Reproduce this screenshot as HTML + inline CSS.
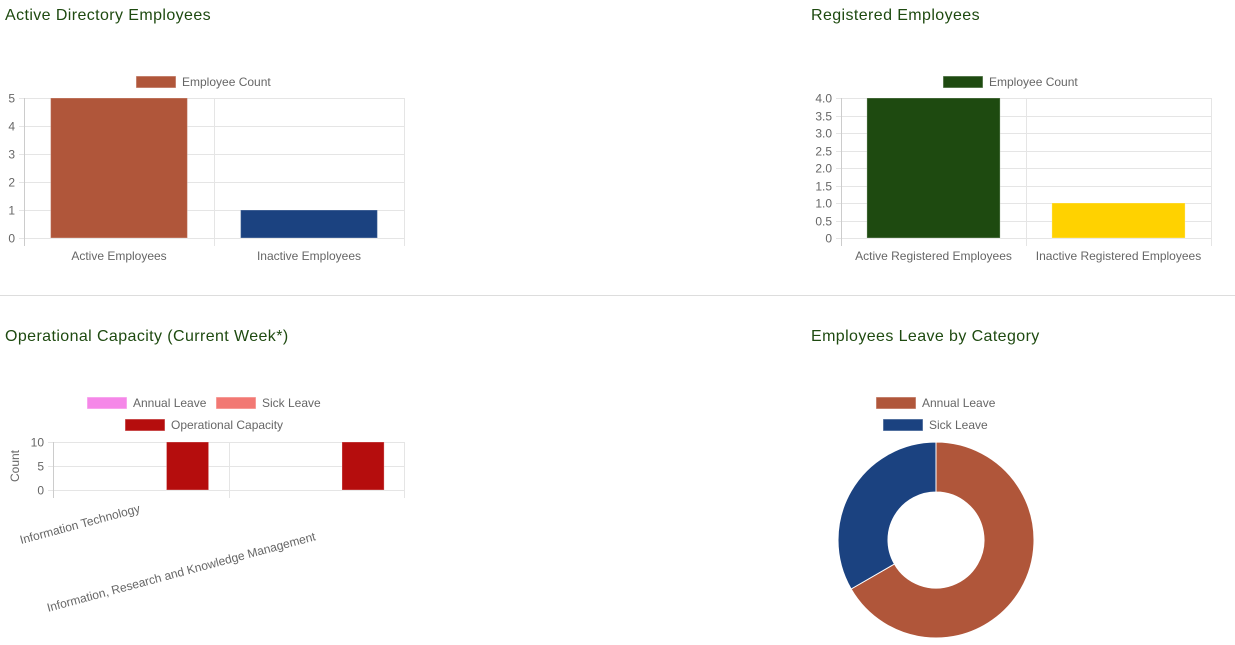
<!DOCTYPE html>
<html><head><meta charset="utf-8"><style>
body{margin:0;background:#fff;width:1235px;height:645px;overflow:hidden;font-family:"Liberation Sans",sans-serif}
svg{display:block}
.title{font-size:16px;fill:#1e4a10;letter-spacing:0.4px}
.tick{font-size:12px;fill:#666}
.grid{stroke:#e5e5e5;stroke-width:1}
</style></head><body>
<svg id="svg" width="1235" height="645" xmlns="http://www.w3.org/2000/svg">
<text class="title" x="5" y="20">Active Directory Employees</text>
<text class="title" x="811" y="20">Registered Employees</text>
<text class="title" x="5" y="341">Operational Capacity (Current Week*)</text>
<text class="title" x="811" y="341">Employees Leave by Category</text>
<line x1="0" y1="295.5" x2="1235" y2="295.5" stroke="#ddd"/>
</svg>
<script>
const NS='http://www.w3.org/2000/svg';
const svg=document.getElementById('svg');
// Chart 1 data
const adCategories=['Active Employees','Inactive Employees'];
const adValues=[5,1];
const adColors=['#b0563a','#1b4280'];
const adTicks=[0,1,2,3,4,5];
// Chart 2 data
const regCategories=['Active Registered Employees','Inactive Registered Employees'];
const regValues=[4,1];
const regColors=['#1e4a10','#ffd200'];
const regTicks=['0','0.5','1.0','1.5','2.0','2.5','3.0','3.5','4.0'];
// Chart 3 data
const opCategories=['Information Technology','Information, Research and Knowledge Management'];
const opAnnual=[0,0];
const opSick=[0,0];
const opCapacity=[10,10];
const opTicks=[0,5,10];
// Chart 4 data
const leaveLabels=['Annual Leave','Sick Leave'];
const leaveValues=[2,1];
const leaveColors=['#b0563a','#1b4280'];

function el(tag,attrs,parent){const e=document.createElementNS(NS,tag);for(const k in attrs)e.setAttribute(k,attrs[k]);(parent||svg).appendChild(e);return e;}
function txt(s,attrs,parent){const e=el('text',attrs,parent);e.textContent=s;return e;}

function barChart(o){
  const g=el('g',{});
  
  
  const {x0,x1,y0,y1,max}=o;
  const ys=v=>y1-(v/max)*(y1-y0);
  const n=o.categories.length, cw=(x1-x0)/n;
  o.ticks.forEach(t=>{
    const y=Math.round(ys(+t))+0.5;
    const gl=el('line',{x1:x0-5,x2:x1,y1:y,y2:y,class:'grid',stroke:(+t===0?'#ccc':'#e5e5e5')},g);
    
    
    const tl=txt(String(t),{x:x0-9,y:y+4,'text-anchor':'end',class:'tick'},g);
    
    
  });
  for(let i=0;i<=n;i++){
    const x=Math.round(x0+i*cw)+0.5;
    const vl=el('line',{x1:x,x2:x,y1:y0,y2:y1+8,stroke:i===0?'#ccc':'#e5e5e5'},g);
    
    
  }
  const ds=o.datasets, m=ds.length, slot=cw*0.8/m;
  o.categories.forEach((c,i)=>{
    ds.forEach((d,j)=>{
      const v=d.values[i]; if(!v) return;
      const bx=x0+i*cw+cw*0.1+j*slot+slot*0.05, bw=slot*0.9;
      const col=d.colors?d.colors[i]:d.color;
      const r=el('rect',{x:bx,y:ys(v),width:bw,height:ys(0)-ys(v),fill:col,stroke:'rgba(255,255,255,0.3)','stroke-width':1},g);
      
      
    });
    const cx=x0+(i+0.5)*cw;
    let lab;
    if(o.rotate){
      const ly=y1+22+i*28;
      lab=txt(c,{x:cx+o.rotate.dx,y:ly,'text-anchor':'end',class:'tick',transform:`rotate(-15 ${cx+o.rotate.dx} ${ly})`},g);
    }else{
      lab=txt(c,{x:cx,y:y1+22,'text-anchor':'middle',class:'tick'},g);
    }
    
    
  });
  return g;
}
function legend(items,x,y){
  items.forEach(it=>{
    const sw=el('rect',{x:it.x,y:it.y-6,width:40,height:12,fill:it.color,stroke:'rgba(255,255,255,0.5)'});
    
    
    const t=txt(it.label,{x:it.x+46,y:it.y+4,class:'tick'});
    
    
  });
}

barChart({name:'active-directory-chart',categories:adCategories,datasets:[{key:'count',values:adValues,colors:adColors}],ticks:adTicks,max:5,x0:24,x1:404,y0:98,y1:238});
legend([{x:136,y:82,color:'#b0563a',label:'Employee Count'}]);

barChart({name:'registered-employees-chart',categories:regCategories,datasets:[{key:'count',values:regValues,colors:regColors}],ticks:regTicks,max:4,x0:841,x1:1211,y0:98,y1:238});
legend([{x:943,y:82,color:'#1e4a10',label:'Employee Count'}]);

barChart({name:'operational-capacity-chart',categories:opCategories,datasets:[
  {key:'annual',values:opAnnual,color:'#f587e8'},
  {key:'sick',values:opSick,color:'#f27873'},
  {key:'capacity',values:opCapacity,color:'#b50d0d'}],ticks:opTicks,max:10,x0:53,x1:404,y0:442,y1:490,rotate:{dx:0}});
legend([{x:87,y:403,color:'#f587e8',label:'Annual Leave'},{x:216,y:403,color:'#f27873',label:'Sick Leave'},{x:125,y:425,color:'#b50d0d',label:'Operational Capacity'}]);
const yt=txt('Count',{x:0,y:0,class:'tick',transform:'translate(19 466) rotate(-90)','text-anchor':'middle'});



// Donut
(function(){
  const cx=936,cy=540,R=98,r=48;
  const total=leaveValues.reduce((a,b)=>a+b,0);
  let a=-Math.PI/2;
  const g=el('g',{});
  
  
  leaveValues.forEach((v,i)=>{
    const b=a+v/total*2*Math.PI, large=(b-a)>Math.PI?1:0;
    const p=(ang,rad)=>[cx+rad*Math.cos(ang),cy+rad*Math.sin(ang)];
    const [x1,y1]=p(a,R),[x2,y2]=p(b,R),[x3,y3]=p(b,r),[x4,y4]=p(a,r);
    const s=el('path',{d:`M${x1},${y1}A${R},${R} 0 ${large} 1 ${x2},${y2}L${x3},${y3}A${r},${r} 0 ${large} 0 ${x4},${y4}Z`,fill:leaveColors[i],stroke:'#fff','stroke-width':1},g);
    
    
    a=b;
  });
})();
legend([{x:876,y:403,color:'#b0563a',label:'Annual Leave'},{x:883,y:425,color:'#1b4280',label:'Sick Leave'}]);
</script>
</body></html>
